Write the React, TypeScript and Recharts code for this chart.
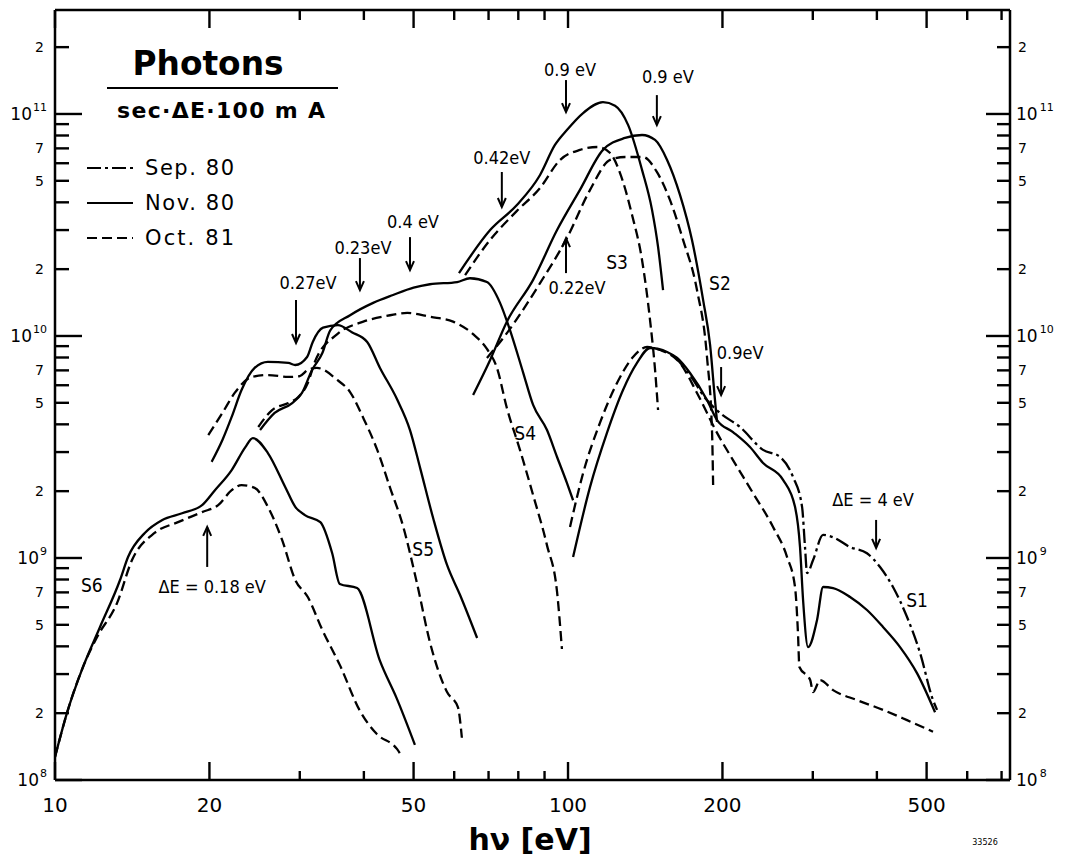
import React from 'react';
import { LineChart, Line, XAxis, YAxis, ReferenceDot } from 'recharts';

type Pt = [number, number];

// ---- series values [hv (eV), photons / (sec·ΔE·100 mA)] ----
const nov80_S6: Pt[] = [[10,1.27e8],[10.55,2.0e8],[11.34,3.23e8],[12.24,4.89e8],[13.39,7.96e8],[13.88,1.01e9],[14.98,1.30e9],[16.16,1.48e9],[17.69,1.59e9],[19.35,1.73e9],[20.5,2.02e9],[22.1,2.49e9],[23.5,3.16e9],[24.3,3.47e9],[26.0,2.97e9],[28.1,2.09e9],[29.4,1.70e9],[30.7,1.56e9],[32.9,1.45e9],[34.7,1.05e9],[35.9,7.64e8],[38.8,7.32e8],[43.0,3.44e8],[46.4,2.32e8],[50.3,1.44e8]];
const oct81_S6: Pt[] = [[10,1.27e8],[10.55,2.0e8],[11.34,3.23e8],[12.08,4.41e8],[13.21,6.26e8],[14.13,9.79e8],[15.66,1.30e9],[17.37,1.45e9],[19.35,1.61e9],[20.8,1.73e9],[22.1,2.02e9],[23.1,2.13e9],[24.5,2.07e9],[26.0,1.70e9],[27.7,1.21e9],[29.4,7.96e8],[31.1,6.67e8],[33.2,4.74e8],[35.9,3.30e8],[39.3,2.05e8],[42.4,1.61e8],[46.4,1.38e8],[47.5,1.27e8]];
const nov80_S5: Pt[] = [[20.2,2.71e9],[21.2,3.40e9],[22.1,4.32e9],[23.1,5.71e9],[24.5,7.18e9],[26.0,7.64e9],[28.5,7.56e9],[29.4,7.40e9],[31.0,8.04e9],[31.8,9.40e9],[33.3,1.09e10],[35.6,1.12e10],[37.9,1.04e10],[40.6,9.40e9],[43.0,7.18e9],[46.4,5.20e9],[49.2,3.77e9],[51.5,2.54e9],[54.6,1.51e9],[58.1,9.30e8],[61.6,6.81e8],[66.5,4.36e8]];
const oct81_S5: Pt[] = [[19.9,3.58e9],[21.2,4.50e9],[22.4,5.54e9],[24.2,6.54e9],[26.0,6.67e9],[28.5,6.54e9],[30.0,6.60e9],[31.1,7.03e9],[32.4,7.18e9],[35.5,6.34e9],[37.6,5.59e9],[39.9,4.27e9],[42.4,3.10e9],[45.0,2.07e9],[47.7,1.39e9],[50.8,7.64e8],[53.8,4.18e8],[58.1,2.49e8],[61.0,2.13e8],[62.1,1.55e8]];
const nov80_S4: Pt[] = [[25.1,3.77e9],[26.8,4.50e9],[29.0,4.99e9],[30.3,5.54e9],[31.7,7.03e9],[33.2,8.38e9],[34.4,1.06e10],[37.6,1.24e10],[41.7,1.41e10],[45.6,1.53e10],[50.0,1.65e10],[53.8,1.71e10],[60.8,1.75e10],[64.4,1.82e10],[69.5,1.75e10],[73.7,1.41e10],[77.1,1.06e10],[81.7,6.88e9],[85.5,4.89e9],[91.0,3.77e9],[95.2,2.85e9],[99.5,2.18e9],[102.3,1.82e9]];
const oct81_S4: Pt[] = [[24.9,3.89e9],[26.5,4.64e9],[28.5,4.99e9],[29.8,5.31e9],[31.1,6.14e9],[32.1,7.64e9],[35.5,1.02e10],[39.9,1.16e10],[45.0,1.24e10],[48.6,1.27e10],[53.8,1.22e10],[59.7,1.16e10],[65.3,1.02e10],[69.5,8.74e9],[72.7,7.18e9],[76.0,4.74e9],[80.6,3.07e9],[85.5,1.92e9],[91.0,1.14e9],[95.2,7.03e8],[97.3,3.89e8]];
const nov80_S3: Pt[] = [[61.3,1.92e10],[70.5,3.00e10],[79.5,3.89e10],[88.2,5.31e10],[94.3,7.25e10],[99.5,8.47e10],[107,1.01e11],[117,1.13e11],[123.5,1.09e11],[131,8.91e10],[139.4,5.60e10],[145.8,3.70e10],[149.8,2.52e10],[153.2,1.61e10]];
const oct81_S3: Pt[] = [[63.0,1.88e10],[70.5,2.71e10],[79.5,3.66e10],[88.2,4.64e10],[96.5,6.21e10],[105.5,6.89e10],[114.4,7.10e10],[120.8,6.67e10],[126.3,5.42e10],[133.3,3.51e10],[139.4,2.20e10],[144.5,1.18e10],[147.8,7.03e9],[149.8,4.64e9]];
const nov80_S2: Pt[] = [[65.3,5.42e9],[70.5,7.80e9],[76.0,1.16e10],[85.5,1.79e10],[95.2,3.00e10],[105.5,4.55e10],[117,6.89e10],[129.2,7.80e10],[139.4,8.04e10],[147.8,7.64e10],[156,6.21e10],[165.3,4.32e10],[174.4,2.71e10],[183.4,1.45e10],[189.2,9.11e9],[193.4,5.15e9],[195.2,4.10e9]];
const oct81_S2: Pt[] = [[69.5,7.96e9],[76.0,1.03e10],[88.2,1.73e10],[99.5,2.76e10],[110.4,4.55e10],[120.8,6.21e10],[129.2,6.40e10],[140,6.40e10],[149,5.48e10],[158,4.10e10],[167.6,2.71e10],[178.4,1.61e10],[186.6,8.04e9],[190.9,3.66e9],[191.8,2.13e9]];
const nov80_S1: Pt[] = [[102.3,1.01e9],[110.4,2.09e9],[119.1,3.66e9],[128,5.71e9],[136.3,7.56e9],[144.5,8.83e9],[156,8.47e9],[163.2,7.96e9],[172.9,6.81e9],[186.6,5.15e9],[195.2,4.18e9],[209.7,3.69e9],[226.3,3.16e9],[240,2.68e9],[262.5,2.25e9],[277,1.70e9],[283.3,1.12e9],[287.2,6.47e8],[293.7,3.97e8],[305.8,5.26e8],[314.2,7.40e8],[328.6,7.32e8],[354.6,6.67e8],[382.6,5.83e8],[411.1,4.89e8],[443.8,3.97e8],[478.9,3.03e8],[519.3,2.02e8]];
const oct81_S1: Pt[] = [[100.9,1.38e9],[107,2.41e9],[115.4,4.06e9],[124.6,6.14e9],[133.9,8.04e9],[142.6,8.92e9],[151.1,8.65e9],[165.3,7.56e9],[178.4,5.54e9],[195.2,3.66e9],[209.7,2.76e9],[229.4,1.96e9],[251,1.38e9],[267.3,1.01e9],[277,7.40e8],[280.7,4.59e8],[282.5,3.23e8],[296.5,2.82e8],[300.4,2.49e8],[310,2.82e8],[328.6,2.54e8],[366,2.29e8],[411.1,2.07e8],[458,1.86e8],[514.6,1.65e8]];
const sep80_S1: Pt[] = [[161.7,8.04e9],[172.9,6.67e9],[185,5.26e9],[197.8,4.50e9],[216.4,3.89e9],[240,3.07e9],[259,2.85e9],[274.5,2.32e9],[285.9,1.70e9],[289.7,1.12e9],[292.4,8.56e8],[300.4,9.79e8],[314.2,1.27e9],[328.6,1.24e9],[354.6,1.12e9],[382.6,1.05e9],[405.7,9.11e8],[430,7.40e8],[458,5.42e8],[485.6,3.73e8],[514.6,2.29e8],[524,2.07e8]];

// ---- ticks ----
const xTicks = [10, 20, 30, 40, 50, 60, 70, 80, 90, 100, 200, 300, 400, 500, 600, 700];
const xTickLabels = [10, 20, 50, 100, 200, 500];
const yDecades = [8, 9, 10, 11];
const yMantissas = [1, 2, 3, 4, 5, 6, 7, 8, 9];
const yLabelMantissas = [2, 5, 7];

// ---- legend / annotations ----
const legendItems = [
  { label: 'Sep. 80', kind: 'dashdot' },
  { label: 'Nov. 80', kind: 'solid' },
  { label: 'Oct. 81', kind: 'dashed' },
];
const arrowNotes = [
  { text: '0.9 eV', x: 99.1, y: 1.02e11, dir: 'down' },
  { text: '0.9 eV', x: 149, y: 8.91e10, dir: 'down' },
  { text: '0.42eV', x: 74.3, y: 3.81e10, dir: 'down' },
  { text: '0.22eV', x: 99.1, y: 2.76e10, dir: 'up' },
  { text: '0.4 eV', x: 49.2, y: 1.98e10, dir: 'down' },
  { text: '0.23eV', x: 39.3, y: 1.61e10, dir: 'down' },
  { text: '0.27eV', x: 29.5, y: 9.3e9, dir: 'down' },
  { text: 'ΔE = 0.18 eV', x: 19.8, y: 1.38e9, dir: 'up' },
  { text: '0.9eV', x: 198.8, y: 5.42e9, dir: 'down' },
  { text: 'ΔE = 4 eV', x: 398.6, y: 1.11e9, dir: 'down' },
];
const curveLabels = [
  { text: 'S1', x: 479, y: 6.47e8 },
  { text: 'S2', x: 197.8, y: 1.73e10 },
  { text: 'S3', x: 124.6, y: 2.15e10 },
  { text: 'S4', x: 82.5, y: 3.66e9 },
  { text: 'S5', x: 52.2, y: 1.1e9 },
  { text: 'S6', x: 11.8, y: 7.55e8 },
];

// layout / style (not data)
const arrowLayout = [
  { shaft: 32, dx: 4, dy: -36 },
  { shaft: 30, dx: 11, dy: -42 },
  { shaft: 35, dx: 0, dy: -43 },
  { shaft: 35, dx: 11, dy: 56 },
  { shaft: 33, dx: 3, dy: -42 },
  { shaft: 32, dx: 3, dy: -36 },
  { shaft: 43, dx: 12, dy: -54 },
  { shaft: 40, dx: 5, dy: 66 },
  { shaft: 28, dx: 19, dy: -36 },
  { shaft: 28, dx: -3, dy: -42 },
];
const DASH: Record<string, string | undefined> = { solid: undefined, dashed: '10 5', dashdot: '14 4 3 4' };
const FONT = "'DejaVu Sans', 'Liberation Sans', sans-serif";
const NARROW = "'DejaVu Sans Condensed', 'Liberation Sans Narrow', 'DejaVu Sans', sans-serif";
const INK = '#000';

const seriesList: { data: Pt[]; kind: string }[] = [
  { data: nov80_S6, kind: 'solid' }, { data: oct81_S6, kind: 'dashed' },
  { data: nov80_S5, kind: 'solid' }, { data: oct81_S5, kind: 'dashed' },
  { data: nov80_S4, kind: 'solid' }, { data: oct81_S4, kind: 'dashed' },
  { data: nov80_S3, kind: 'solid' }, { data: oct81_S3, kind: 'dashed' },
  { data: nov80_S2, kind: 'solid' }, { data: oct81_S2, kind: 'dashed' },
  { data: nov80_S1, kind: 'solid' }, { data: oct81_S1, kind: 'dashed' },
  { data: sep80_S1, kind: 'dashdot' },
];

const yTicks = yDecades
  .flatMap((e) => yMantissas.map((m) => m * Math.pow(10, e)))
  .filter((v) => v <= 2.01e11);

const decomp = (v: number) => {
  const e = Math.floor(Math.log10(v) + 1e-9);
  const m = Math.round(v / Math.pow(10, e));
  return { e, m };
};

function LeftTick(props: any) {
  const { x, y, payload } = props;
  const { e, m } = decomp(payload.value);
  const major = m === 1;
  return (
    <g>
      <line x1={x} y1={y} x2={x + (major ? 27 : 14)} y2={y} stroke={INK} strokeWidth={2.4} />
      {major ? (
        <text x={x - 8} y={y + 6} textAnchor="end" fontFamily={FONT} fontSize={17} fill={INK}>
          10<tspan dx={1} dy={-9} fontSize={11}>{e}</tspan>
        </text>
      ) : yLabelMantissas.includes(m) ? (
        <text x={x - 11} y={y + 5} textAnchor="end" fontFamily={FONT} fontSize={14} fill={INK}>{m}</text>
      ) : null}
    </g>
  );
}

function RightTick(props: any) {
  const { x, y, payload } = props;
  const { e, m } = decomp(payload.value);
  const major = m === 1;
  return (
    <g>
      <line x1={x} y1={y} x2={x - (major ? 24 : 13)} y2={y} stroke={INK} strokeWidth={2.4} />
      {major ? (
        <text x={x + 6} y={y + 6} textAnchor="start" fontFamily={FONT} fontSize={17} fill={INK}>
          10<tspan dx={2} dy={-9} fontSize={11}>{e}</tspan>
        </text>
      ) : yLabelMantissas.includes(m) ? (
        <text x={x + 8} y={y + 5} textAnchor="start" fontFamily={FONT} fontSize={14} fill={INK}>{m}</text>
      ) : null}
    </g>
  );
}

function BottomTick(props: any) {
  const { x, y, payload } = props;
  const v = payload.value as number;
  const major = xTickLabels.includes(v);
  return (
    <g>
      <line x1={x} y1={y} x2={x} y2={y - (major ? 18 : 9)} stroke={INK} strokeWidth={2.4} />
      {major ? (
        <text x={x} y={y + 32} textAnchor="middle" fontFamily={FONT} fontSize={20} fill={INK}>{v}</text>
      ) : null}
    </g>
  );
}

function TopTick(props: any) {
  const { x, y, payload } = props;
  const v = payload.value as number;
  const major = xTickLabels.includes(v);
  return <line x1={x} y1={y} x2={x} y2={y + (major ? 18 : 10)} stroke={INK} strokeWidth={2.4} />;
}

function ArrowNote({ cx, cy, text, dir, shaft, dx, dy }: any) {
  const down = dir === 'down';
  const tail = down ? cy - shaft : cy + shaft;
  const hy = down ? cy - 9 : cy + 9;
  return (
    <g>
      <line x1={cx} y1={tail} x2={cx} y2={cy} stroke={INK} strokeWidth={2} />
      <polyline points={`${cx - 4},${hy} ${cx},${cy} ${cx + 4},${hy}`} fill="none" stroke={INK} strokeWidth={2} />
      <text x={cx + dx} y={cy + dy} textAnchor="middle" fontFamily={NARROW} fontSize={18} fill={INK}>{text}</text>
    </g>
  );
}

function CurveLabel({ cx, cy, text }: any) {
  return (
    <text x={cx} y={cy + 7} textAnchor="middle" fontFamily={NARROW} fontSize={19} fill={INK}>{text}</text>
  );
}

export default function App() {
  const W = 1057;
  const H = 850;
  return (
    <div style={{ position: 'relative', width: W, height: H, background: '#fff' }}>
      <LineChart width={W} height={H} margin={{ top: 0, right: 15, bottom: 18, left: 7 }}>
        <XAxis
          dataKey="x"
          type="number"
          scale="log"
          domain={[10, 727]}
          allowDataOverflow
          ticks={xTicks}
          interval={0}
          height={60}
          tickSize={0}
          tickMargin={0}
          tickLine={false}
          axisLine={{ stroke: INK, strokeWidth: 2.5 }}
          tick={(p: any) => <BottomTick {...p} />}
        />
        <XAxis
          xAxisId="top"
          orientation="top"
          dataKey="x"
          type="number"
          scale="log"
          domain={[10, 727]}
          allowDataOverflow
          ticks={xTicks}
          interval={0}
          height={2}
          tickSize={0}
          tickMargin={0}
          tickLine={false}
          axisLine={{ stroke: INK, strokeWidth: 2.5 }}
          tick={(p: any) => <TopTick {...p} />}
        />
        <YAxis
          type="number"
          scale="log"
          domain={[1e8, 2.94e11]}
          allowDataOverflow
          ticks={yTicks}
          interval={0}
          width={40}
          tickSize={0}
          tickMargin={0}
          tickLine={false}
          axisLine={{ stroke: INK, strokeWidth: 2.5 }}
          tick={(p: any) => <LeftTick {...p} />}
        />
        <YAxis
          yAxisId="right"
          orientation="right"
          type="number"
          scale="log"
          domain={[1e8, 2.94e11]}
          allowDataOverflow
          ticks={yTicks}
          interval={0}
          width={40}
          tickSize={0}
          tickMargin={0}
          tickLine={false}
          axisLine={{ stroke: INK, strokeWidth: 2.5 }}
          tick={(p: any) => <RightTick {...p} />}
        />
        {seriesList.map((s, i) => (
          <Line
            key={`s${i}`}
            data={s.data.map(([x, y]) => ({ x, y }))}
            dataKey="y"
            type="monotone"
            stroke={INK}
            strokeWidth={2.3}
            strokeDasharray={DASH[s.kind]}
            dot={false}
            activeDot={false}
            isAnimationActive={false}
          />
        ))}
        {arrowNotes.map((n, i) => (
          <ReferenceDot
            key={`a${i}`}
            x={n.x}
            y={n.y}
            r={1}
            ifOverflow="visible"
            shape={(p: any) => (
              <ArrowNote cx={p.cx} cy={p.cy} text={n.text} dir={n.dir} {...arrowLayout[i]} />
            )}
          />
        ))}
        {curveLabels.map((n, i) => (
          <ReferenceDot
            key={`c${i}`}
            x={n.x}
            y={n.y}
            r={1}
            ifOverflow="visible"
            shape={(p: any) => <CurveLabel cx={p.cx} cy={p.cy} text={n.text} />}
          />
        ))}
      </LineChart>
      <svg
        width={W}
        height={H}
        style={{ position: 'absolute', left: 0, top: 0, pointerEvents: 'none' }}
      >
        <text x={200} y={67} textAnchor="middle" fontFamily={FONT} fontWeight="bold" fontSize={33} fill={INK} textLength={151} lengthAdjust="spacingAndGlyphs">Photons</text>
        <line x1={99} y1={80} x2={330} y2={80} stroke={INK} strokeWidth={2} />
        <text x={213} y={110} textAnchor="middle" fontFamily={FONT} fontWeight="bold" fontSize={22} fill={INK} textLength={208} lengthAdjust="spacing">sec·ΔE·100 m A</text>
        {legendItems.map((it, i) => (
          <g key={it.label}>
            <line x1={79} y1={160 + i * 35} x2={125} y2={160 + i * 35} stroke={INK} strokeWidth={2} strokeDasharray={DASH[it.kind]} />
            <text x={137} y={167 + i * 35} fontFamily={FONT} fontSize={21} fill={INK} textLength={89} lengthAdjust="spacing">{it.label}</text>
          </g>
        ))}
        <text x={522} y={842} textAnchor="middle" fontFamily={FONT} fontWeight="bold" fontSize={30} fill={INK}>hν [eV]</text>
        <text x={977} y={837} textAnchor="middle" fontFamily={FONT} fontSize={8} fill={INK}>33526</text>
      </svg>
    </div>
  );
}
